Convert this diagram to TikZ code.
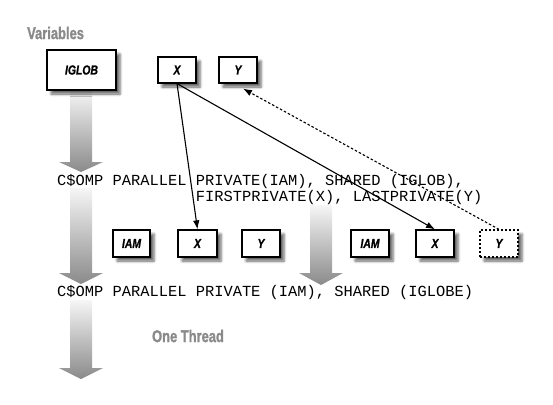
\documentclass[tikz,border=0pt]{standalone}
\usepackage{fontspec}
\usepackage{graphicx}
\setmainfont{Liberation Sans}
\newfontfamily\monof{Liberation Mono}
\newfontfamily\heavyf{Liberation Sans Bold}[FakeBold=1.6]
\newfontfamily\heavyitf{Liberation Sans Bold Italic}[FakeBold=1.2]
\usetikzlibrary{arrows.meta,shadows.blur,calc}
\definecolor{titlegray}{HTML}{8A8A8A}
\definecolor{arrowtop}{HTML}{F6F6F6}
\definecolor{arrowbot}{HTML}{8A8A8A}
\newcommand{\boxlbl}[1]{\scalebox{0.8}[1]{\fontsize{13}{13}\heavyitf #1}}
\newcommand{\headlbl}[1]{\scalebox{0.76}[1]{\fontsize{17}{17}\heavyf #1}}
\newcommand{\flowarrow}[5]{%
  \path[flow] (#1,#3) -- (#2,#3) -- (#2,#4) -- (#2+11,#4) -- ({(#1+#2)/2},#5) -- (#1-11,#4) -- (#1,#4) -- cycle;}
\begin{document}
\begin{tikzpicture}[x=1pt,y=-1pt,
  varbox/.style={draw, line width=1.2pt, fill=white, inner sep=0pt,
    minimum width=38pt, minimum height=27pt,
    blur shadow={shadow xshift=4pt, shadow yshift=-4pt, shadow blur radius=2.5pt, shadow opacity=60}},
  code/.style={font=\monof\fontsize{15.4}{16}\selectfont, inner sep=0pt, anchor=base west, text=black},
  heading/.style={text=titlegray, inner sep=0pt},
  flow/.style={shading=axis, top color=arrowtop, bottom color=arrowbot, draw=none},
  link/.style={line width=1.1pt, -{Latex[length=9pt,width=6.5pt]}},
  ]
\useasboundingbox (0,0) rectangle (553,404);
% flow arrows
\flowarrow{70}{92}{90}{162}{172}
\flowarrow{70}{92}{188}{273}{284}
\flowarrow{70}{92}{300}{368}{379}
\flowarrow{310}{332}{205}{273}{285}
% headings
\node[heading, anchor=west] (vars) at (27,33) {\headlbl{Variables}};
\node[heading] (one) at (188,336) {\headlbl{One Thread}};
% code
\node[code] (l1) at (57,185.5) {C\$OMP PARALLEL PRIVATE(IAM), SHARED (IGLOB),};
\node[code] (l2) at (57,201.5) {\hphantom{C\$OMP PARALLEL }FIRSTPRIVATE(X), LASTPRIVATE(Y)};
\node[code] (l3) at (57,296.5) {C\$OMP PARALLEL PRIVATE (IAM), SHARED (IGLOBE)};
% boxes
\node[varbox, minimum width=69pt, minimum height=40pt] (iglob) at (81.5,70) {\boxlbl{IGLOB}};
\node[varbox, minimum height=26pt] (xt) at (177,70) {\boxlbl{X}};
\node[varbox, minimum height=26pt] (yt) at (238,70) {\boxlbl{Y}};
\node[varbox, minimum width=37pt] (iama) at (131.5,243.5) {\boxlbl{IAM}};
\node[varbox, minimum width=39pt] (xa) at (197.5,243.5) {\boxlbl{X}};
\node[varbox] (ya) at (261,243.5) {\boxlbl{Y}};
\node[varbox] (iamb) at (370,243.5) {\boxlbl{IAM}};
\node[varbox] (xb) at (435,243.5) {\boxlbl{X}};
\node[varbox, dash pattern=on 2pt off 2pt] (yb) at (499,243.5) {\boxlbl{Y}};
% connectors
\draw[link] (xt.south) -- (xa.north);
\draw[link] (xt.south) -- (xb.north);
\coordinate (ytip) at ($(yt.south)+(5,5)$);
\draw[link, dash pattern=on 2.5pt off 2pt] (yb.north) -- (ytip);
\end{tikzpicture}
\end{document}
